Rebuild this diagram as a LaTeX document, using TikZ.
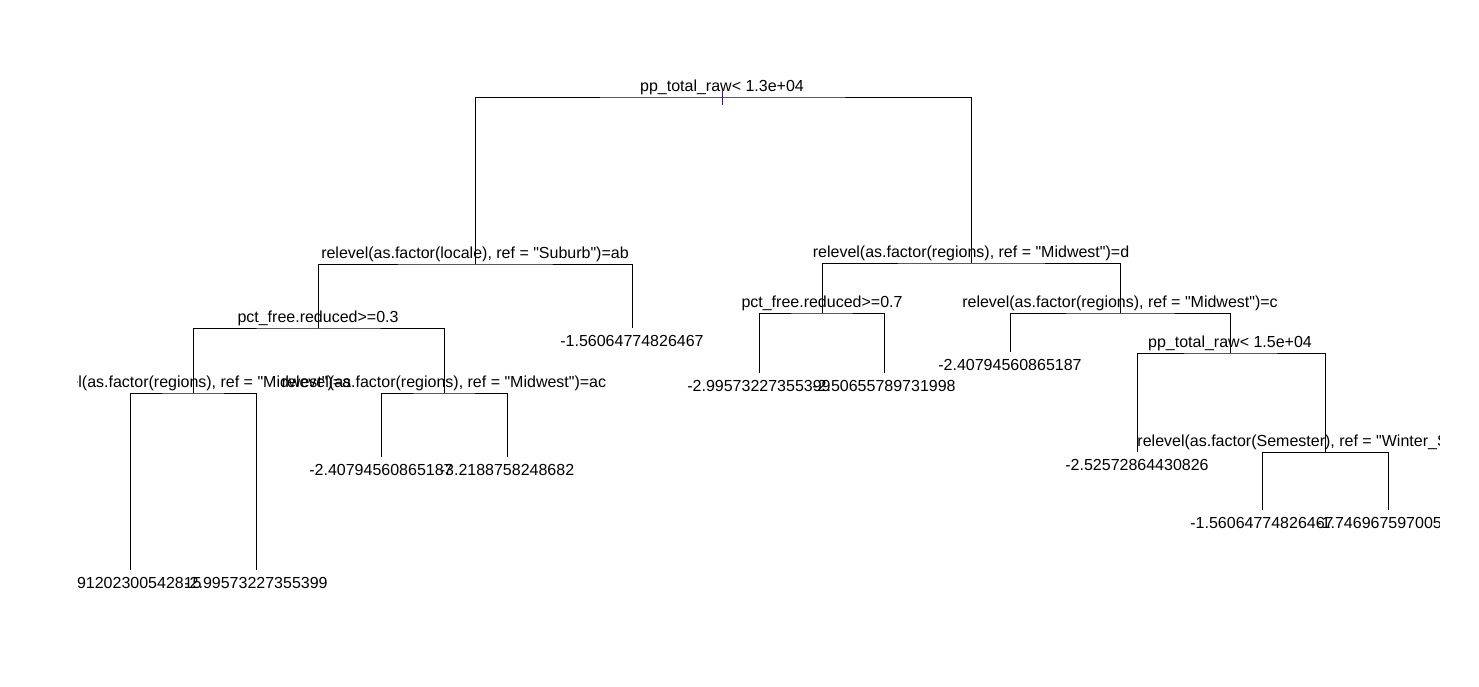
\documentclass[tikz,border=0pt]{standalone}
\usepackage{fontspec}
\setmainfont{Liberation Sans}
% straight double quote, set as a glyph so that no ligature mapping curls it
\newcommand{\dq}{\XeTeXglyph\XeTeXcharglyph"22\relax}
\begin{document}
\begin{tikzpicture}[x=1pt,y=-1pt,
  edge/.style={draw=black,line width=0.9pt},
  lblfont/.style={font=\fontsize{16}{19}\selectfont,inner sep=0pt,text=black},
  splitlbl/.style={lblfont,anchor=base,yshift=6pt},
  leaflbl/.style={lblfont,anchor=base,yshift=-18pt},
  tickmark/.style={draw={rgb,255:red,70;green,20;blue,125},line width=0.9pt}]
\useasboundingbox (0,0) rectangle (1479,686);
\fill[white] (0,0) rectangle (1479,686);

% split points (at the level of the horizontal bar) and leaf ends
\coordinate (n1)  at (722,97);
\coordinate (n2)  at (475,264);
\coordinate (n3)  at (971,263);
\coordinate (n4)  at (318,328);
\coordinate (n5)  at (632,328);
\coordinate (n6)  at (822,313);
\coordinate (n7)  at (1120,313);
\coordinate (n8)  at (193,393);
\coordinate (n9)  at (444,393);
\coordinate (n12) at (759,373);
\coordinate (n13) at (884,373);
\coordinate (n14) at (1010,352);
\coordinate (n15) at (1230,353);
\coordinate (n16) at (130,570);
\coordinate (n17) at (256,570);
\coordinate (n18) at (381,457);
\coordinate (n19) at (507,457);
\coordinate (n30) at (1137,452);
\coordinate (n31) at (1325,452);
\coordinate (n62) at (1262,510);
\coordinate (n63) at (1388,510);

\begin{scope}
\clip (77,0) rectangle (1439,686);

% branches
\draw[edge] (n2) |- (n1) -| (n3);
\draw[edge] (n4) |- (n2) -| (n5);
\draw[edge] (n6) |- (n3) -| (n7);
\draw[edge] (n8) |- (n4) -| (n9);
\draw[edge] (n16) |- (n8) -| (n17);
\draw[edge] (n18) |- (n9) -| (n19);
\draw[edge] (n12) |- (n6) -| (n13);
\draw[edge] (n14) |- (n7) -| (n15);
\draw[edge] (n30) |- (n15) -| (n31);
\draw[edge] (n62) |- (n31) -| (n63);

% split labels
\node[splitlbl] (t1)  at (n1)  {pp\_total\_raw< 1.3e+04};
\node[splitlbl] (t2)  at (n2)  {relevel(as.factor(locale), ref = \dq Suburb\dq)=ab};
\node[splitlbl] (t3)  at (n3)  {relevel(as.factor(regions), ref = \dq Midwest\dq)=d};
\node[splitlbl] (t4)  at (n4)  {pct\_free.reduced>=0.3};
\node[splitlbl] (t6)  at (n6)  {pct\_free.reduced>=0.7};
\node[splitlbl] (t7)  at (n7)  {relevel(as.factor(regions), ref = \dq Midwest\dq)=c};
\node[splitlbl] (t8)  at (n8)  {relevel(as.factor(regions), ref = \dq Midwest\dq)=a};
\node[splitlbl] (t9)  at (n9)  {relevel(as.factor(regions), ref = \dq Midwest\dq)=ac};
\node[splitlbl] (t15) at (n15) {pp\_total\_raw< 1.5e+04};
\node[splitlbl] (t31) at (n31) {relevel(as.factor(Semester), ref = \dq Winter\_Spring\dq)=a};

% leaf values
\node[leaflbl] (l5)  at (n5)  {-1.56064774826467};
\node[leaflbl] (l12) at (n12) {-2.99573227355399};
\node[leaflbl] (l13) at (n13) {-2.50655789731998};
\node[leaflbl] (l14) at (n14) {-2.40794560865187};
\node[leaflbl] (l16) at (n16) {-2.91202300542815};
\node[leaflbl] (l17) at (n17) {-2.99573227355399};
\node[leaflbl] (l18) at (n18) {-2.40794560865187};
\node[leaflbl] (l19) at (n19) {-3.2188758248682};
\node[leaflbl] (l30) at (n30) {-2.52572864430826};
\node[leaflbl] (l62) at (n62) {-1.56064774826467};
\node[leaflbl] (l63) at (n63) {-1.74696759700589};
\end{scope}

% marker on the root split
\coordinate (tk1) at (722,90);
\coordinate (tk2) at (722,105);
\draw[tickmark] (tk1) -- (tk2);
\end{tikzpicture}
\end{document}
